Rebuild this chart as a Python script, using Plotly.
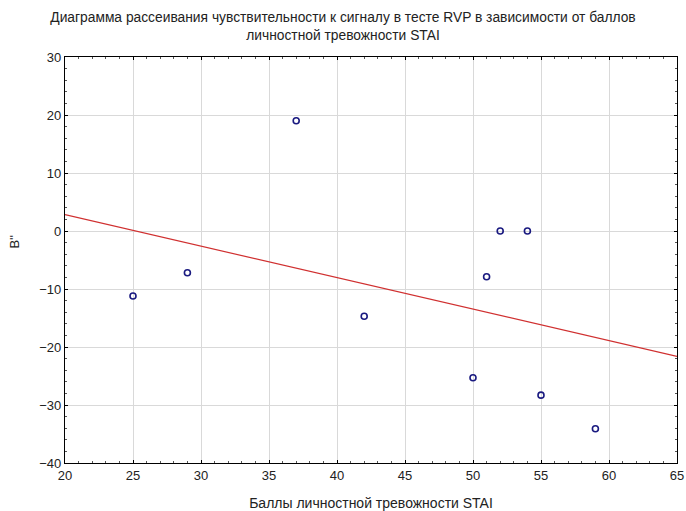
import numpy as np
import plotly.graph_objects as go

stai_scores = [25, 29, 37, 42, 50, 51, 52, 54, 55, 59]
b_values = [-11.2, -7.2, 19.0, -14.7, -25.3, -7.9, 0.0, 0.0, -28.3, -34.1]

x_range = [20, 65]
y_range = [-40, 30]

title_text = ("Диаграмма рассеивания чувствительности к сигналу в тесте RVP в зависимости от баллов"
              "<br>личностной тревожности STAI")
x_title = "Баллы личностной тревожности STAI"
y_title = "B''"

slope, intercept = np.polyfit(stai_scores, b_values, 1)
fit_x = np.array(x_range, dtype=float)
fit_y = slope * fit_x + intercept

fig = go.Figure()
fig.add_trace(go.Scatter(
    x=fit_x, y=fit_y, mode="lines",
    line=dict(color="#d03030", width=1.2),
    showlegend=False, hoverinfo="skip",
))
fig.add_trace(go.Scatter(
    x=stai_scores, y=b_values, mode="markers",
    marker=dict(symbol="circle-open", size=6, color="#1a1a80", line=dict(width=1.6, color="#1a1a80")),
    showlegend=False,
))

font_family = "Liberation Sans, Arial, sans-serif"
axis_common = dict(
    showline=True, linecolor="black", linewidth=1.2, mirror="allticks",
    ticks="inside", ticklen=3, tickcolor="black",
    showgrid=True, gridcolor="#d9d9d9", gridwidth=1,
    zeroline=False,
    tickfont=dict(family=font_family, size=13, color="#222222"),
)

fig.update_layout(
    width=686, height=511,
    paper_bgcolor="white", plot_bgcolor="white",
    margin=dict(l=65, r=9, t=57, b=48, autoexpand=False),
    title=dict(
        text=title_text, x=0.5, xanchor="center", xref="container",
        y=0.957, yanchor="top", yref="container",
        font=dict(family=font_family, size=13.8, color="#222222"),
    ),
    xaxis=dict(
        range=x_range, dtick=5, tick0=20,
        minor=dict(ticks="inside", ticklen=2, dtick=1, tickcolor="#555555", showgrid=False),
        title=dict(text=x_title, standoff=18, font=dict(family=font_family, size=14, color="#222222")),
        automargin=False,
        **axis_common,
    ),
    yaxis=dict(
        range=y_range, dtick=10, tick0=0,
        minor=dict(ticks="inside", ticklen=2, dtick=2, tickcolor="#555555", showgrid=False),
        automargin=False,
        **axis_common,
    ),
    annotations=[dict(
        text=y_title, textangle=-90, showarrow=False,
        xref="paper", yref="paper", x=-0.082, y=0.545,
        xanchor="center", yanchor="middle",
        font=dict(family=font_family, size=13, color="#222222"),
    )],
)

fig.write_html(
    "out.html",
    config={"displayModeBar": False},
    post_script="document.body.style.margin='0';document.body.style.overflow='hidden';",
)
